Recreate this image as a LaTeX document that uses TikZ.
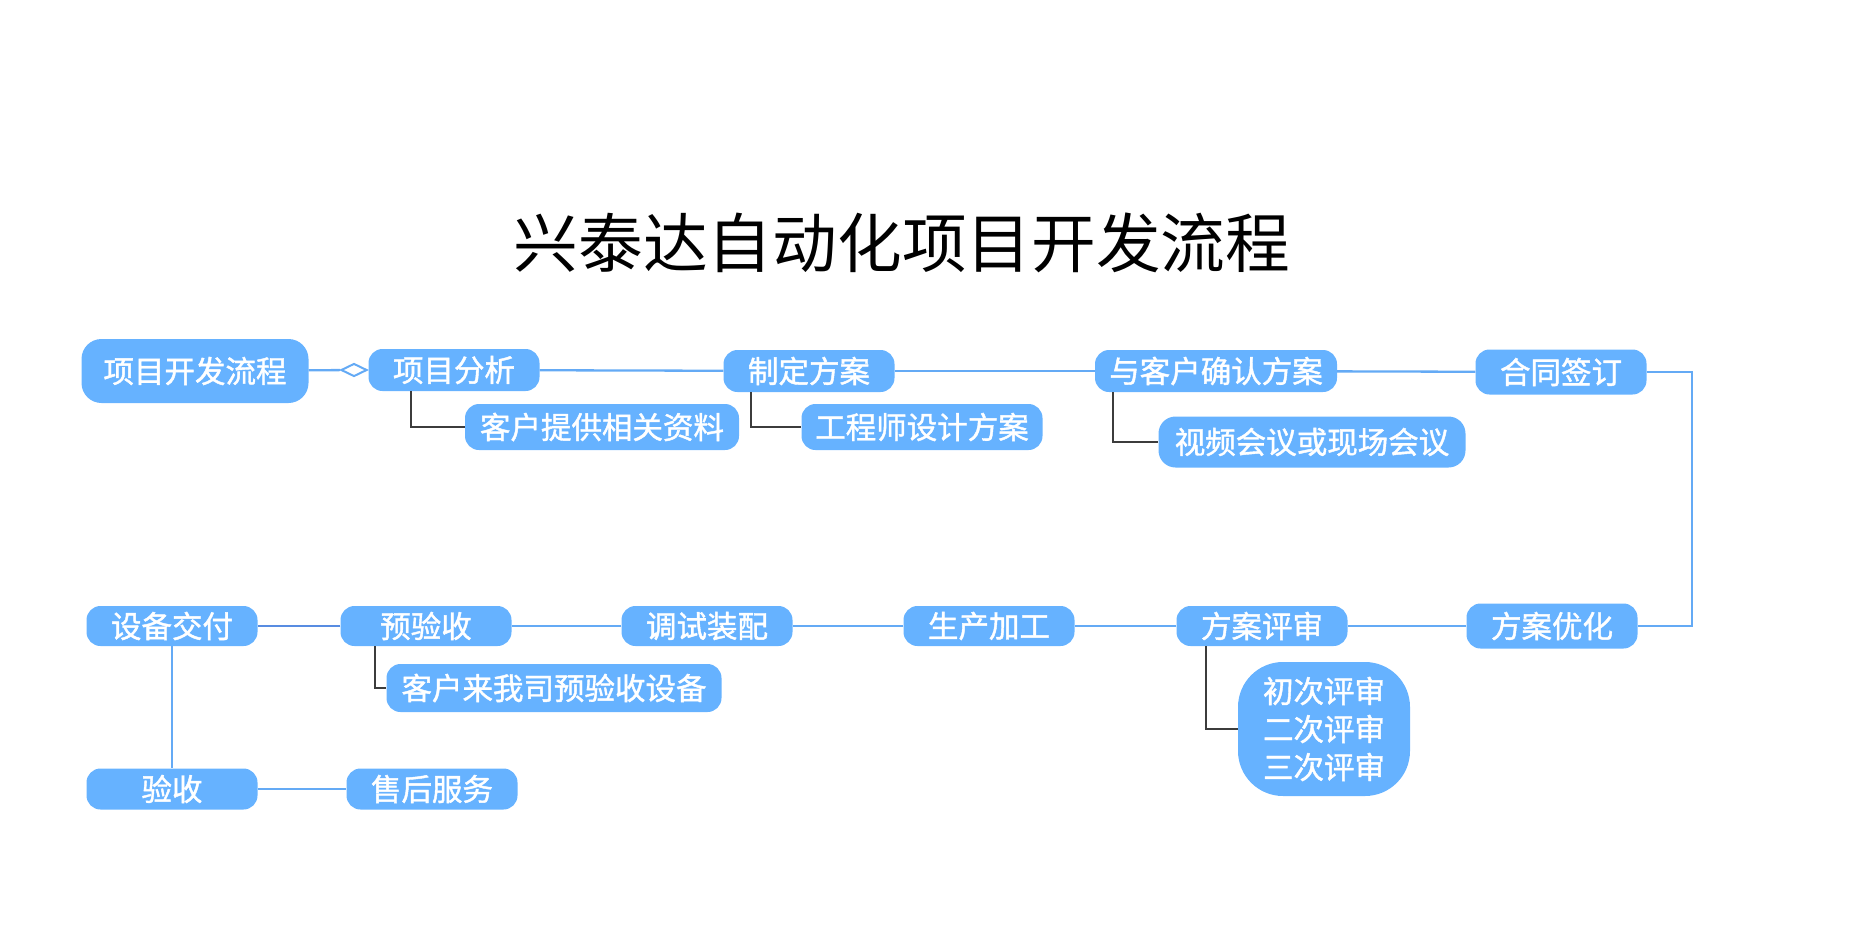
\documentclass[tikz,border=0pt]{standalone}
\usepackage{fontspec}
\newfontfamily\cjk{Noto Sans CJK SC}
\newfontfamily\cjkbox[FakeBold=1.4]{Noto Sans CJK SC}
\usepackage{tikz}
\usetikzlibrary{positioning}
\usetikzlibrary{shapes.geometric}
\definecolor{nodeblue}{RGB}{102,178,255}
\definecolor{lineblue}{RGB}{100,170,245}
\definecolor{darkline}{RGB}{88,140,225}
\definecolor{subgray}{RGB}{60,60,60}

\begin{document}
\begin{tikzpicture}[x=1pt, y=-1pt,
    box/.style={fill=nodeblue, rounded corners=14pt, text=white, inner sep=0pt,
        minimum width=171pt, minimum height=42pt, font=\cjkbox\fontsize{30.5}{35}\selectfont},
    flow/.style={draw=lineblue, line width=2.3pt},
    sub/.style={draw=subgray, line width=2pt}]

                \useasboundingbox (0,0) rectangle (1849,945);

                % Title
                \node at (902,243) (title) {\cjk\fontsize{64.7}{70}\selectfont 兴泰达自动化项目开发流程};

                % Nodes, top row
                \node at (195,371) (root) [box, minimum width=227pt, minimum height=64pt, rounded corners=20pt] {项目开发流程};
                \node at (354,370) (dia) [diamond, draw=lineblue, fill=white, line width=2pt, inner sep=0pt, minimum width=26pt, minimum height=13pt] {};
                \node at (454,370) (fx) [box] {项目分析};
                \node at (602,427) (zl) [box, minimum width=274pt, minimum height=46pt] {客户提供相关资料};
                \node at (809,371) (zd) [box] {制定方案};
                \node at (922,427) (gc) [box, minimum width=241pt, minimum height=46pt] {工程师设计方案};
                \node at (1216,371) (qr) [box, minimum width=242pt] {与客户确认方案};
                \node at (1312,442) (sp) [box, minimum width=307pt, minimum height=51pt, rounded corners=17pt] {视频会议或现场会议};
                \node at (1561,372) (ht) [box, minimum height=45pt] {合同签订};
                \coordinate (rt) at (1692,626);

                % Nodes, bottom rows
                \node at (1552,626) (yh) [box, minimum height=45pt] {方案优化};
                \node at (1262,626) (ps) [box, minimum height=40pt] {方案评审};
                \node at (1324,729) (cc) [box, minimum width=172pt, minimum height=134pt, rounded corners=45pt, align=center, font=\cjkbox\fontsize{30.5}{38}\selectfont] {初次评审\\二次评审\\三次评审};
                \node at (989,626) (sc) [box, minimum height=40pt] {生产加工};
                \node at (707,626) (ts) [box, minimum height=40pt] {调试装配};
                \node at (426,626) (ys) [box, minimum height=40pt] {预验收};
                \node at (554,688) (lw) [box, minimum width=335pt, minimum height=48pt] {客户来我司预验收设备};
                \node at (172,626) (jf) [box, minimum height=40pt] {设备交付};
                \node at (172,789) (yan) [box, minimum height=41pt] {验收};
                \node at (432,789) (sh) [box, minimum height=41pt] {售后服务};

                % Flow lines
                \draw[flow] (root) -- (dia);
                \draw[flow] (fx) -- (zd);
                \draw[flow] (zd) -- (qr);
                \draw[flow] (qr) -- (ht);
                \draw[flow] (ht.east) -| (rt) -- (yh.east);
                \draw[flow] (yh) -- (ps);
                \draw[flow] (ps) -- (sc);
                \draw[flow] (sc) -- (ts);
                \draw[flow] (ts) -- (ys);
                \draw[flow, draw=darkline] (ys) -- (jf);
                \draw[flow] (jf) -- (yan);
                \draw[flow] (yan) -- (sh);

                % Sub branches
                \draw[sub] ([xshift=43pt]fx.south west) |- (zl.west);
                \draw[sub] ([xshift=28pt]zd.south west) |- (gc.west);
                \draw[sub] ([xshift=18pt]qr.south west) |- (sp.west);
                \draw[sub] ([xshift=35pt]ys.south west) |- (lw.west);
                \draw[sub] ([xshift=30pt]ps.south west) |- (cc.west);

            \end{tikzpicture}
\end{document}
